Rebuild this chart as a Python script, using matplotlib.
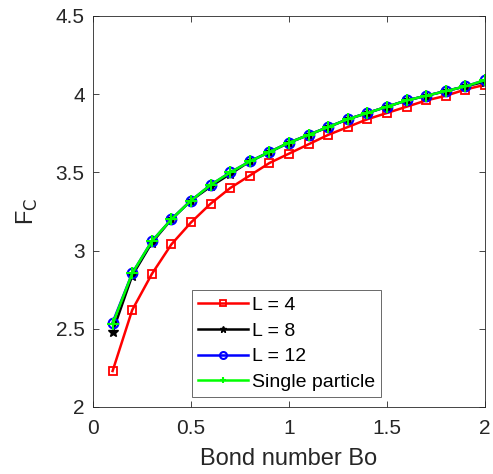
import matplotlib
matplotlib.use("Agg")
import matplotlib.pyplot as plt

plt.rcParams['font.family'] = ['Liberation Sans', 'DejaVu Sans']

# Bond number values
bo = [0.1, 0.2, 0.3, 0.4, 0.5, 0.6, 0.7, 0.8, 0.9, 1.0,
      1.1, 1.2, 1.3, 1.4, 1.5, 1.6, 1.7, 1.8, 1.9, 2.0]

# F_C for each case
fc_l4 = [2.23, 2.62, 2.85, 3.04, 3.18, 3.30, 3.40, 3.48, 3.56, 3.62,
         3.68, 3.74, 3.79, 3.84, 3.88, 3.92, 3.96, 3.99, 4.03, 4.06]
fc_l8 = [2.48, 2.84, 3.05, 3.20, 3.32, 3.41, 3.49, 3.57, 3.63, 3.69,
         3.74, 3.79, 3.84, 3.88, 3.92, 3.96, 3.99, 4.02, 4.05, 4.08]
fc_l12 = [2.54, 2.855, 3.06, 3.20, 3.32, 3.42, 3.50, 3.57, 3.63, 3.69,
          3.74, 3.79, 3.84, 3.88, 3.92, 3.96, 3.99, 4.02, 4.05, 4.09]
fc_single = [2.53, 2.855, 3.06, 3.20, 3.32, 3.42, 3.50, 3.57, 3.63, 3.69,
             3.74, 3.79, 3.84, 3.88, 3.92, 3.96, 3.99, 4.02, 4.05, 4.09]

xticks = [0, 0.5, 1, 1.5, 2]
xtick_labels = ["0", "0.5", "1", "1.5", "2"]
yticks = [2, 2.5, 3, 3.5, 4, 4.5]
ytick_labels = ["2", "2.5", "3", "3.5", "4", "4.5"]

fig = plt.figure(figsize=(4.93, 4.74), dpi=100)
ax = fig.add_axes([93 / 493, 67 / 474, 392 / 493, 391 / 474])

ax.plot(bo, fc_l4, color="red", lw=1.8, marker="s", ms=6,
        mfc="none", mec="red", mew=1.3, label="L = 4")
ax.plot(bo, fc_l8, color="black", lw=1.8, marker="*", ms=7,
        label="L = 8")
ax.plot(bo, fc_l12, color="blue", lw=1.8, marker="o", ms=7,
        mfc="none", mec="blue", mew=1.5, label="L = 12")
ax.plot(bo, fc_single, color="#00ff00", lw=1.8, marker="+", ms=8,
        mew=1.5, label="Single particle")

ax.set_xlim(0, 2)
ax.set_ylim(2, 4.5)
ax.set_xticks(xticks)
ax.set_xticklabels(xtick_labels)
ax.set_yticks(yticks)
ax.set_yticklabels(ytick_labels)
ax.tick_params(direction="in", labelsize=15, colors="#262626",
               top=True, right=True, length=4, width=0.6, pad=6)
ax.tick_params(axis="x", pad=9)
for s in ax.spines.values():
    s.set_color("#262626")
    s.set_linewidth(0.6)

ax.set_xlabel("Bond number Bo", fontsize=17, color="#262626", labelpad=7)
ax.set_ylabel("F$_\\mathrm{C}$", fontsize=17, color="#262626", labelpad=11)

leg = ax.legend(loc="lower left", bbox_to_anchor=(99 / 392, 10 / 391),
                fontsize=14, frameon=True, fancybox=False,
                edgecolor="#262626", handlelength=2.6, borderpad=0.3,
                labelspacing=0.42, handletextpad=0.2, borderaxespad=0)
leg.get_frame().set_linewidth(0.6)
# legend markers are drawn smaller than on the curves
for h in leg.legend_handles:
    h.set_markersize(5)

fig.savefig("out.png", dpi=100)
